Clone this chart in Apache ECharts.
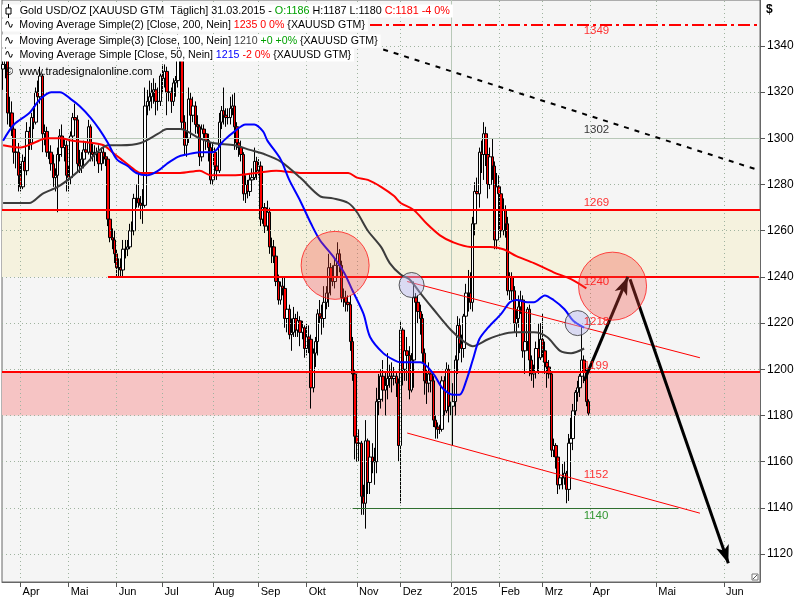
<!DOCTYPE html>
<html><head><meta charset="utf-8">
<script src="https://cdn.jsdelivr.net/npm/echarts@6/dist/echarts.min.js"></script>
<style>html,body{margin:0;padding:0;background:#fff}#c{width:800px;height:600px}</style>
</head><body><div id="c"></div>
<script>
// ---------- DATA ----------
const monthNames = ['Jan','Feb','Mrz','Apr','Mai','Jun','Jul','Aug','Sep','Okt','Nov','Dez'];
const yTicks = [1120,1140,1160,1180,1200,1220,1240,1260,1280,1300,1320,1340];
const firstTradingDay = '2014-03-20', lastTradingDay = '2015-03-31', lastFutureDay = '2015-06-17';

// daily bars [open, high, low, close]
const dailyOHLC = [
 // Mar 2014
 [1330,1338,1321,1332],[1332,1342,1326,1335],[1335,1336,1306,1311],[1311,1318,1305,1311],[1311,1316,1301,1304],[1304,1307,1289,1294],[1294,1298,1287,1294],[1294,1298,1277,1284],
 // Apr
 [1284,1289,1277,1279],[1279,1293,1278,1290],[1290,1292,1282,1286],[1286,1307,1284,1303],[1303,1305,1295,1298],[1298,1311,1295,1309],[1309,1314,1304,1307],[1307,1322,1306,1320],[1320,1325,1313,1318],[1318,1331,1315,1327],[1327,1328,1294,1302],[1302,1306,1297,1303],[1303,1305,1292,1294],[1294,1296,1291,1294],[1294,1297,1286,1289],[1289,1293,1279,1283],[1283,1287,1277,1284],[1284,1296,1268,1293],[1293,1304,1290,1301],[1301,1306,1292,1296],[1296,1300,1290,1297],[1297,1299,1277,1284],
 // May
 [1284,1288,1277,1283],[1283,1303,1280,1301],[1301,1311,1300,1309],[1309,1315,1305,1308],[1308,1310,1285,1289],[1289,1295,1285,1288],[1288,1294,1285,1291],[1291,1299,1287,1295],[1295,1298,1291,1294],[1294,1308,1293,1305],[1305,1306,1290,1294],[1294,1298,1290,1293],[1293,1297,1288,1293],[1293,1296,1290,1294],[1294,1297,1285,1289],[1289,1296,1286,1294],[1294,1296,1289,1292],[1292,1294,1288,1291],[1291,1292,1262,1265],[1265,1268,1255,1257],[1257,1261,1252,1256],[1256,1260,1246,1250],
 // Jun
 [1250,1252,1240,1244],[1244,1248,1240,1244],[1244,1248,1240,1243],[1243,1256,1240,1252],[1252,1256,1248,1252],[1252,1256,1249,1253],[1253,1263,1252,1260],[1260,1264,1257,1260],[1260,1276,1258,1274],[1274,1280,1270,1274],[1274,1285,1270,1272],[1272,1275,1265,1271],[1271,1278,1263,1271],[1271,1322,1270,1314],[1314,1321,1310,1316],[1316,1325,1312,1318],[1318,1324,1313,1320],[1320,1326,1315,1321],[1321,1324,1310,1316],[1316,1322,1312,1316],[1316,1328,1314,1327],
 // Jul
 [1327,1332,1320,1326],[1326,1332,1322,1329],[1329,1331,1310,1320],[1320,1322,1316,1320],[1320,1322,1311,1316],[1316,1326,1314,1324],[1324,1327,1318,1325],[1325,1345,1322,1338],[1338,1342,1331,1337],[1337,1338,1304,1307],[1307,1310,1293,1297],[1297,1303,1292,1300],[1300,1322,1298,1317],[1317,1320,1306,1310],[1310,1318,1307,1314],[1314,1316,1302,1306],[1306,1310,1302,1305],[1305,1306,1288,1292],[1292,1306,1290,1304],[1304,1306,1298,1302],[1302,1304,1295,1299],[1299,1302,1290,1296],[1296,1298,1280,1282],
 // Aug
 [1282,1298,1280,1294],[1294,1296,1285,1288],[1288,1290,1282,1286],[1286,1311,1285,1307],[1307,1314,1304,1312],[1312,1322,1306,1310],[1310,1313,1305,1309],[1309,1313,1306,1309],[1309,1318,1306,1313],[1313,1319,1310,1314],[1314,1320,1295,1305],[1305,1307,1295,1298],[1298,1300,1292,1296],[1296,1299,1290,1293],[1293,1294,1273,1276],[1276,1284,1272,1280],[1280,1282,1274,1277],[1277,1285,1275,1282],[1282,1287,1280,1283],[1283,1296,1282,1290],[1290,1292,1282,1286],
 // Sep
 [1286,1291,1284,1288],[1288,1290,1262,1265],[1265,1275,1263,1270],[1270,1272,1259,1262],[1262,1273,1260,1268],[1268,1270,1250,1253],[1253,1257,1246,1253],[1253,1256,1246,1249],[1249,1251,1236,1238],[1238,1241,1228,1230],[1230,1238,1228,1236],[1236,1240,1232,1235],[1235,1240,1218,1222],[1222,1230,1216,1226],[1226,1228,1213,1215],[1215,1222,1208,1216],[1216,1227,1214,1222],[1222,1224,1214,1217],[1217,1225,1214,1221],[1221,1223,1210,1216],[1216,1221,1213,1218],[1218,1219,1205,1209],
 // Oct
 [1209,1220,1206,1214],[1214,1219,1207,1213],[1213,1215,1183,1192],[1192,1209,1190,1207],[1207,1214,1201,1212],[1212,1226,1206,1224],[1224,1230,1220,1223],[1223,1228,1215,1222],[1222,1236,1218,1229],[1229,1236,1226,1233],[1233,1250,1227,1244],[1244,1246,1232,1240],[1240,1245,1236,1238],[1238,1248,1235,1245],[1245,1255,1240,1250],[1250,1252,1242,1245],[1245,1247,1229,1231],[1231,1235,1227,1231],[1231,1234,1225,1229],[1229,1232,1225,1228],[1228,1232,1208,1212],[1212,1214,1195,1198],[1198,1200,1161,1171],
 // Nov
 [1171,1175,1160,1168],[1168,1174,1160,1168],[1168,1169,1137,1145],[1145,1150,1137,1142],[1142,1178,1131,1169],[1169,1170,1146,1151],[1151,1166,1146,1162],[1162,1168,1155,1160],[1160,1166,1150,1160],[1160,1192,1155,1186],[1186,1198,1180,1187],[1187,1200,1183,1197],[1197,1204,1186,1191],[1191,1199,1180,1193],[1193,1207,1187,1196],[1196,1202,1192,1197],[1197,1203,1190,1196],[1196,1201,1193,1197],[1197,1199,1188,1194],[1194,1196,1160,1167],
 // Dec
 [1167,1221,1142,1217],[1217,1218,1193,1200],[1200,1212,1195,1208],[1208,1214,1195,1206],[1206,1210,1187,1191],[1191,1207,1190,1204],[1204,1238,1192,1231],[1231,1233,1220,1229],[1229,1232,1220,1225],[1225,1228,1215,1222],[1222,1224,1203,1207],[1207,1209,1189,1195],[1195,1200,1185,1194],[1194,1203,1190,1198],[1198,1200,1190,1195],[1195,1197,1175,1178],[1178,1180,1170,1175],[1175,1177,1170,1174],[1174,1176,1172,1174],[1174,1197,1173,1195],[1195,1197,1180,1182],[1182,1203,1181,1200],[1200,1202,1177,1184],
 // Jan 2015
 [1184,1186,1180,1184],[1184,1194,1167,1186],[1186,1206,1180,1204],[1204,1223,1198,1219],[1219,1222,1207,1211],[1211,1215,1203,1209],[1209,1224,1205,1223],[1223,1237,1218,1233],[1233,1243,1225,1233],[1233,1242,1226,1229],[1229,1266,1225,1263],[1263,1281,1258,1277],[1277,1283,1271,1276],[1276,1296,1270,1294],[1294,1299,1285,1293],[1293,1307,1282,1302],[1302,1305,1288,1293],[1293,1295,1274,1280],[1280,1296,1278,1292],[1292,1300,1282,1288],[1288,1290,1252,1256],[1256,1285,1252,1279],
 // Feb
 [1279,1284,1270,1276],[1276,1279,1257,1260],[1260,1274,1258,1269],[1269,1271,1257,1263],[1263,1266,1232,1234],[1234,1242,1230,1240],[1240,1242,1230,1234],[1234,1236,1216,1220],[1220,1226,1214,1222],[1222,1232,1218,1227],[1227,1234,1224,1230],[1230,1232,1205,1208],[1208,1214,1198,1212],[1212,1227,1208,1226],[1226,1228,1197,1204],[1204,1206,1195,1198],[1198,1202,1192,1199],[1199,1212,1196,1209],[1209,1220,1198,1205],[1205,1220,1204,1213],
 // Mar
 [1213,1224,1205,1208],[1208,1212,1198,1203],[1203,1206,1192,1201],[1201,1204,1196,1198],[1198,1199,1162,1165],[1165,1170,1162,1167],[1167,1168,1157,1162],[1162,1164,1146,1150],[1150,1159,1148,1153],[1153,1159,1148,1153],[1153,1160,1150,1155],[1155,1156,1142,1148],[1148,1172,1143,1168],[1168,1179,1163,1170],[1170,1185,1165,1182],[1182,1191,1180,1190],[1190,1195,1186,1192],[1192,1198,1188,1197],[1197,1219,1196,1204],[1204,1206,1194,1199],[1199,1200,1184,1186],[1186,1187,1180,1181]
];

// moving averages: [bar index, value]
const ma200 = [[0,1297],[8,1296],[14,1298],[20,1300],[26,1300],[32,1299],[41,1298],[46,1297],[50,1294],[54,1291],[58,1288],[63,1285],[72,1285],[81,1285],[90,1286],[95,1284],[105,1284],[116,1285],[125,1286],[136,1285],[150,1285],[158,1285],[162,1283],[167,1282],[173,1279],[179,1275],[182,1272],[188,1269],[194,1263],[200,1258],[206,1255],[214,1253],[223,1253],[229,1252],[235,1249],[243,1246],[252,1242],[260,1239],[267,1235]];
const ma100 = [[0,1272],[12,1272],[18,1276],[25,1279],[31,1283],[37,1288],[43,1294],[48,1297],[54,1297],[63,1298],[71,1302],[75,1304],[81,1304],[90,1300],[96,1298],[106,1297],[113,1295],[120,1293],[127,1290],[136,1283],[145,1275],[151,1274],[158,1272],[162,1268],[167,1260],[173,1253],[177,1246],[182,1241],[186,1239],[191,1233],[197,1226],[205,1217],[211,1212],[215,1210],[222,1213],[228,1215],[234,1216],[243,1216],[249,1214],[255,1208],[260,1207],[266,1209]];
const ma50 = [[0,1299],[5,1306],[12,1311],[17,1317],[22,1320],[26,1320],[31,1317],[35,1314],[40,1309],[44,1304],[48,1298],[52,1291],[57,1288],[61,1285],[66,1284],[71,1286],[75,1289],[80,1292],[84,1293],[90,1294],[96,1294],[101,1299],[106,1303],[111,1306],[115,1306],[119,1303],[121,1299],[127,1291],[131,1282],[136,1273],[141,1263],[145,1256],[151,1249],[156,1242],[160,1234],[165,1224],[168,1214],[174,1207],[179,1204],[182,1203],[191,1203],[197,1198],[201,1192],[206,1189],[209,1189],[212,1195],[215,1204],[218,1213],[222,1218],[228,1224],[232,1229],[235,1230],[240,1229],[243,1229],[248,1232],[252,1230],[257,1226],[261,1221],[266,1218]];

// horizontal levels and zones
const level1349 = 1349;
const levelsFull = [1269, 1199];
const level1240 = {from:'2014-05-27', to:'2015-06-17', value:1240};
const level1140 = {from:'2014-10-30', to:'2015-05-11', value:1140};
const zoneUpper = [1240, 1269];
const zoneLower = [1180, 1199];
const level1300 = 1300;
// trend lines [date, value] pairs
const channelUpper = [['2014-12-04',1238],['2015-05-21',1205]];
const channelLower = [['2014-12-04',1172.4],['2015-05-21',1137.7]];
const trendDashed  = [['2014-11-19',1338.5],['2015-06-16',1286.5]];
const arrowUp   = [['2015-03-27',1195],['2015-04-18',1240]];
const arrowDown = [['2015-04-19',1239],['2015-06-03',1116]];
// circles
const redCircles  = [['2014-10-20',1245],['2015-04-11',1236]];
const blueCircles = [['2014-12-08',1236.5],['2015-03-24',1220]];
// price labels
const labelDate = '2015-03-27';
const labelValues = [1349,1302,1269,1240,1218,1199,1152,1140];

// ---------- LAYOUT / STYLE ----------
const labelDy = [6,-4,-7,5,-6,-6,-5,8];
const labelColors = ['#ff0000','#000000','#ff0000','#ff0000','#ff0000','#ff0000','#ff0000','#008000'];
const FONT = '"Liberation Sans", Arial, sans-serif';

function buildCategories(){
  const out=[]; const day=86400000;
  const s=Date.parse(firstTradingDay+'T00:00:00Z'), eT=Date.parse(lastTradingDay+'T00:00:00Z'), eF=Date.parse(lastFutureDay+'T00:00:00Z');
  for(let t=s;t<=eF;t+=day){
    const d=new Date(t), wd=d.getUTCDay();
    if(t>eT || (wd!==0 && wd!==6)) out.push(d.toISOString().slice(0,10));
  }
  return out;
}
const cats = buildCategories();
const monthStart = cats.map((d,i)=> i>0 && d.slice(0,7)!==cats[i-1].slice(0,7));
const candleData = dailyOHLC.map(r=>[r[0],r[3],r[2],r[1]]);

const dotted = {type:[1,3], color:'#9fb39f', width:1};
const gridMarks = [];
yTicks.filter(v=>v!==level1300).forEach(v=>gridMarks.push({yAxis:v, lineStyle:dotted}));
cats.forEach((d,i)=>{ if(monthStart[i] && d.slice(5,7)!=='01') gridMarks.push({xAxis:d, lineStyle:dotted}); });
cats.forEach((d,i)=>{ if(monthStart[i] && d.slice(5,7)==='01') gridMarks.push({xAxis:d, lineStyle:{type:'solid', color:'#b8c8b8', width:1}}); });
gridMarks.push({yAxis:level1300, lineStyle:{type:'solid', color:'#b8c8b8', width:1}});

const red2 = {type:'solid', color:'#ff0000', width:2};
const levelMarks = [
  {yAxis:level1349, lineStyle:{type:[12,4,3,4], color:'#ff0000', width:2}},
  ...levelsFull.map(v=>({yAxis:v, lineStyle:red2})),
  [{coord:[level1240.from, level1240.value]},{coord:[level1240.to, level1240.value], lineStyle:red2}],
  [{coord:[level1140.from, level1140.value]},{coord:[level1140.to, level1140.value], lineStyle:{type:'solid', color:'#2f6f2f', width:1}}]
];
const seg = (p, style, endSym)=>[{coord:p[0], symbol:'none'},{coord:p[1], lineStyle:style, symbol:endSym||'none', symbolSize:[10,18]}];
const drawMarks = [
  seg(channelUpper, {type:'solid', color:'#ff0000', width:1}),
  seg(channelLower, {type:'solid', color:'#ff0000', width:1}),
  seg(trendDashed, {type:[5,6], color:'#000', width:2}),
  seg(arrowUp, {type:'solid', color:'#000', width:3}, 'arrow'),
  seg(arrowDown, {type:'solid', color:'#000', width:3}, 'arrow')
];

const chart = echarts.init(document.getElementById('c'), null, {renderer:'canvas'});
const legendStyle = (text, rich)=>({text, font:'11px '+FONT, fill:'#000', verticalAlign:'middle', backgroundColor:'#fff', padding:[1,3,1,18], rich});
const R = (c)=>({fill:c, font:'11px '+FONT});
chart.setOption({
  animation:false,
  backgroundColor:'#ffffff',
  grid:{left:2, right:40, top:0, bottom:18, show:true, backgroundColor:'#f5f5f5', borderColor:'#666', borderWidth:1},
  xAxis:{type:'category', data:cats, boundaryGap:true,
    axisLine:{show:true, lineStyle:{color:'#666'}},
    axisTick:{show:true, alignWithLabel:true, length:5, interval:(i)=>monthStart[i], lineStyle:{color:'#555'}},
    axisLabel:{interval:(i)=>monthStart[i], align:'left', margin:4, padding:[0,0,0,2], fontSize:11, fontFamily:FONT, color:'#000',
      formatter:(v)=>{const m=+v.slice(5,7); return m===1? v.slice(0,4) : monthNames[m-1];}},
    splitLine:{show:false}},
  yAxis:{type:'value', position:'right', min:1107.9, max:1359.9, scale:true,
    axisLine:{show:true, lineStyle:{color:'#666'}},
    axisTick:{show:true, length:5, customValues:yTicks, lineStyle:{color:'#555'}},
    axisLabel:{customValues:yTicks, margin:7, fontSize:12, fontFamily:FONT, color:'#000', formatter:(v)=>String(Math.round(v))},
    splitLine:{show:false}},
  series:[
    {type:'line', data:[], z:1, silent:true,
      markArea:{silent:true, data:[
        [{yAxis:zoneUpper[0], itemStyle:{color:'#f5f2de'}},{yAxis:zoneUpper[1]}],
        [{yAxis:zoneLower[0], itemStyle:{color:'#f6c4c4'}},{yAxis:zoneLower[1]}]]}},
    {type:'line', data:[], z:2, silent:true,
      markLine:{silent:true, symbol:'none', label:{show:false}, animation:false, data:gridMarks}},
    {type:'candlestick', data:candleData, z:3, barWidth:3,
      itemStyle:{color:'#ffffff', color0:'#ff0000', borderColor:'#000', borderColor0:'#000', borderWidth:1}},
    {type:'line', data:[], z:4, silent:true,
      markLine:{silent:true, symbol:'none', label:{show:false}, data:levelMarks}},
    {type:'line', data:ma200, z:5, showSymbol:false, smooth:0.3, lineStyle:{color:'#ff0000', width:2}},
    {type:'line', data:ma100, z:5, showSymbol:false, smooth:0.3, lineStyle:{color:'#3c3c3c', width:2}},
    {type:'line', data:ma50, z:5, showSymbol:false, smooth:0.3, lineStyle:{color:'#0000ff', width:2}},
    {type:'line', data:[], z:6, silent:true,
      markLine:{silent:true, symbol:'none', label:{show:false}, data:drawMarks}},
    {type:'scatter', data:redCircles, z:7, symbolSize:68, silent:true,
      itemStyle:{color:'rgba(240,70,60,0.4)', borderColor:'#ff1a1a', borderWidth:1}},
    {type:'scatter', data:blueCircles, z:7, symbolSize:25, silent:true,
      itemStyle:{color:'rgba(185,185,240,0.55)', borderColor:'#333', borderWidth:1}},
    {type:'scatter', z:8, symbolSize:1, silent:true, itemStyle:{color:'rgba(0,0,0,0)'},
      data:labelValues.map((v,i)=>({value:[labelDate, v, String(v)],
        label:{show:true, position:'right', distance:0, offset:[-1,labelDy[i]], color:labelColors[i], fontSize:11.5, fontFamily:FONT,
          formatter:(p)=>p.value[2]}}))}
  ],
  graphic:[
    {type:'text', x:2, y:11, z:100, scaleX:0.982, style:legendStyle('Gold USD/OZ [XAUUSD GTM  Täglich] 31.03.2015 - {g|O:1186} H:1187 L:1180 {r|C:1181 -4 0%}', {g:R('#00a000'), r:R('#ff0000')})},
    {type:'text', x:2, y:25, z:100, scaleX:0.962, style:legendStyle('Moving Average Simple(2) [Close, 200, Nein] {r|1235 0 0%} {XAUUSD GTM}', {r:R('#ff0000')})},
    {type:'text', x:2, y:41, z:100, scaleX:0.963, style:legendStyle('Moving Average Simple(3) [Close, 100, Nein] {k|1210} {g|+0 +0%} {XAUUSD GTM}', {k:R('#3c3c3c'), g:R('#00a000')})},
    {type:'text', x:2, y:55, z:100, scaleX:0.966, style:legendStyle('Moving Average Simple [Close, 50, Nein] {b|1215} {r|-2 0%} {XAUUSD GTM}', {b:R('#0000ff'), r:R('#ff0000')})},
    {type:'text', x:5, y:72, z:100, style:{text:'©  www.tradesignalonline.com', font:'11px '+FONT, fill:'#000', verticalAlign:'middle'}},
    {type:'line', z:101, shape:{x1:8.5, y1:4, x2:8.5, y2:18}, style:{stroke:'#000', lineWidth:1}},
    {type:'rect', z:102, shape:{x:6, y:8, width:5, height:6}, style:{fill:'#fff', stroke:'#000', lineWidth:1}},
    {type:'text', x:4, y:25, z:101, style:{text:'∿', font:'12px "DejaVu Sans"', fill:'#000', verticalAlign:'middle'}},
    {type:'text', x:4, y:41, z:101, style:{text:'∿', font:'12px "DejaVu Sans"', fill:'#000', verticalAlign:'middle'}},
    {type:'text', x:4, y:55, z:101, style:{text:'∿', font:'12px "DejaVu Sans"', fill:'#000', verticalAlign:'middle'}},
    {type:'text', x:766, y:10, z:100, style:{text:'$', font:'bold 12px '+FONT, fill:'#000', verticalAlign:'middle'}},
    {type:'rect', z:100, shape:{x:752, y:574, width:6, height:6}, style:{fill:'#fff', stroke:'#777', lineWidth:1}},
    {type:'line', z:101, shape:{x1:753, y1:579, x2:757, y2:575}, style:{stroke:'#555', lineWidth:1}}
  ]
});
</script></body></html>
